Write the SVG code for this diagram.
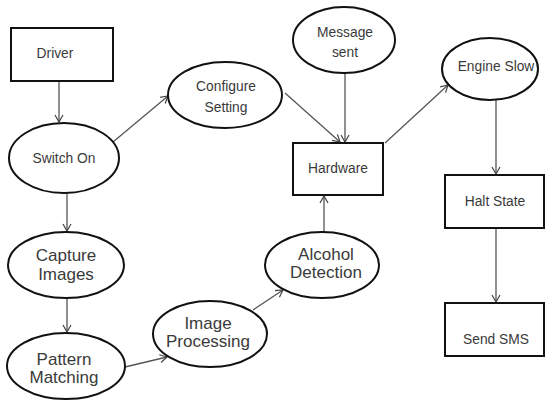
<svg xmlns="http://www.w3.org/2000/svg" width="545" height="401" viewBox="0 0 545 401">
<defs>
<style>
.box{fill:#fff;stroke:#111;stroke-width:2}
.ell{fill:#fff;stroke:#111;stroke-width:2}
.t{font-family:"Liberation Sans",Arial,sans-serif;font-size:13.8px;fill:#3a3a3a;text-anchor:middle}
.t2{font-family:"Liberation Sans",Arial,sans-serif;font-size:17px;fill:#3a3a3a;text-anchor:middle}
.c{stroke:#555;stroke-width:1.3;fill:none;marker-end:url(#ah)}
</style>
<marker id="ah" markerWidth="10" markerHeight="10" refX="8" refY="5" orient="auto" markerUnits="userSpaceOnUse">
<path d="M1,1 L8,5 L1,9" fill="none" stroke="#444" stroke-width="1.2"/>
</marker>
</defs>
<rect width="545" height="401" fill="#fff"/>
<g id="connectors">
<line class="c" x1="59" y1="81" x2="59" y2="122"/>
<line class="c" x1="113" y1="142" x2="168" y2="96"/>
<line class="c" x1="285" y1="93" x2="340" y2="142"/>
<line class="c" x1="345" y1="74" x2="345" y2="142"/>
<line class="c" x1="385" y1="143" x2="448" y2="85"/>
<line class="c" x1="496" y1="100" x2="496" y2="174"/>
<line class="c" x1="496" y1="228" x2="496" y2="302"/>
<line class="c" x1="324" y1="232" x2="324" y2="196"/>
<line class="c" x1="67" y1="193" x2="67" y2="231"/>
<line class="c" x1="67" y1="298" x2="67" y2="332"/>
<line class="c" x1="125" y1="367" x2="167" y2="357"/>
<line class="c" x1="253" y1="310" x2="283" y2="290"/>
</g>
<g id="driver"><rect class="box" x="11" y="28" width="102" height="53"/><text class="t" x="55" y="58">Driver</text></g>
<g id="switch-on"><ellipse class="ell" cx="64" cy="158" rx="55" ry="35"/><text class="t" x="64" y="163">Switch On</text></g>
<g id="configure-setting"><ellipse class="ell" cx="225" cy="95" rx="57" ry="33"/><text class="t" x="226" y="91">Configure</text><text class="t" x="226" y="112">Setting</text></g>
<g id="message-sent"><ellipse class="ell" cx="344" cy="40" rx="51" ry="33"/><text class="t" x="345" y="37">Message</text><text class="t" x="345" y="57">sent</text></g>
<g id="hardware"><rect class="box" x="293" y="143" width="90" height="52"/><text class="t" x="338" y="173">Hardware</text></g>
<g id="engine-slow"><ellipse class="ell" cx="490" cy="69" rx="48" ry="31"/><text class="t" x="496" y="71">Engine Slow</text></g>
<g id="halt-state"><rect class="box" x="445" y="175" width="99" height="53"/><text class="t" x="495" y="206">Halt State</text></g>
<g id="send-sms"><rect class="box" x="445" y="303" width="99" height="53"/><text class="t" x="496" y="344">Send SMS</text></g>
<g id="capture-images"><ellipse class="ell" cx="66" cy="265" rx="58" ry="33"/><text class="t2" x="66" y="261">Capture</text><text class="t2" x="66" y="280">Images</text></g>
<g id="pattern-matching"><ellipse class="ell" cx="66" cy="366" rx="59" ry="33"/><text class="t2" x="64" y="365">Pattern</text><text class="t2" x="64" y="383">Matching</text></g>
<g id="image-processing"><ellipse class="ell" cx="210" cy="334" rx="57" ry="33"/><text class="t2" x="208" y="329">Image</text><text class="t2" x="208" y="347">Processing</text></g>
<g id="alcohol-detection"><ellipse class="ell" cx="322" cy="265" rx="57" ry="33"/><text class="t2" x="326" y="260">Alcohol</text><text class="t2" x="326" y="278">Detection</text></g>
</svg>
